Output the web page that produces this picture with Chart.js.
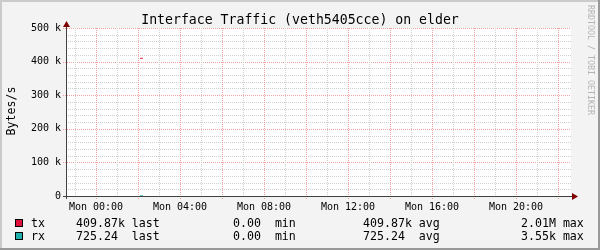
<!DOCTYPE html>
<html><head><meta charset="utf-8">
<script src="https://cdn.jsdelivr.net/npm/chart.js@4/dist/chart.umd.min.js"></script>
<style>html,body{margin:0;padding:0;background:#f3f3f3;overflow:hidden}canvas{display:block}</style>
</head><body>
<canvas id="c" width="600" height="250"></canvas>
<script>
// ---- data ----
const chartTitle = 'Interface Traffic (veth5405cce) on elder';
const yAxisTitle = 'Bytes/s';
const watermark = 'RRDTOOL / TOBI OETIKER';
const sampleMinutes = [126, 134];            // minutes after Mon 00:00
const txValues = [409870, 409870];           // bytes/s
const rxValues = [725.24, 725.24];           // bytes/s
const xTickHours = [0, 4, 8, 12, 16, 20];
const xTickLabels = ['Mon 00:00', 'Mon 04:00', 'Mon 08:00', 'Mon 12:00', 'Mon 16:00', 'Mon 20:00'];
const yTickValues = [0, 100000, 200000, 300000, 400000, 500000];
const yTickLabels = ['0', '100 k', '200 k', '300 k', '400 k', '500 k'];
const seriesNames = ['tx', 'rx'];
const legendLast = ['409.87k', '725.24'];
const legendMin = ['0.00', '0.00'];
const legendAvg = ['409.87k', '725.24'];
const legendMax = ['2.01M', '3.55k'];

// ---- style ----
const seriesColors = ['#e0103c', '#20b2aa'];
const MONO = '"DejaVu Sans Mono", monospace';
const X_MIN = -30 / 21, X_MAX = 475 / 21;   // hours shown
const Y_MAX = 500000;

const rrd = {
  id: 'rrd',
  beforeDraw(chart) {
    const { ctx, chartArea: a } = chart;
    ctx.save();
    ctx.fillStyle = '#f3f3f3'; ctx.fillRect(0, 0, 600, 250);
    ctx.fillStyle = '#cbcbcb'; ctx.fillRect(0, 0, 600, 2); ctx.fillRect(0, 0, 2, 250);
    ctx.fillStyle = '#999999'; ctx.fillRect(0, 248, 600, 2); ctx.fillRect(598, 0, 2, 250);
    ctx.fillStyle = '#ffffff'; ctx.fillRect(a.left, a.top, a.right - a.left, a.bottom - a.top);
    ctx.restore();
  },
  beforeDatasetsDraw(chart) {
    const { ctx, chartArea: a, scales: { x, y } } = chart;
    ctx.save();
    ctx.lineWidth = 1;
    ctx.setLineDash([1, 1]);
    // horizontal grid
    for (let v = 0; v <= Y_MAX; v += 20000) {
      const major = v % 100000 === 0;
      if (v === 0) continue;
      const py = Math.round(y.getPixelForValue(v)) + 0.5;
      ctx.strokeStyle = major ? '#f2a0a0' : '#cfcfcf';
      ctx.beginPath(); ctx.moveTo(major ? a.left - 3 : a.left, py); ctx.lineTo(a.right, py); ctx.stroke();
    }
    // vertical grid
    for (let h = Math.ceil(X_MIN); h <= X_MAX; h += 1) {
      const major = h % 2 === 0;
      const px = Math.round(x.getPixelForValue(h)) + 0.5;
      ctx.strokeStyle = major ? '#f2a0a0' : '#cfcfcf';
      ctx.beginPath(); ctx.moveTo(px, a.top); ctx.lineTo(px, a.bottom + (major ? 3 : 1)); ctx.stroke();
    }
    ctx.restore();
  },
  afterDatasetsDraw(chart) {
    const { ctx, chartArea: a, scales: { x, y } } = chart;
    ctx.save();
    const yb = Math.round(y.getPixelForValue(0)) + 0.5;
    const xl = Math.round(a.left) + 0.5;
    ctx.strokeStyle = '#404040'; ctx.lineWidth = 1;
    ctx.beginPath(); ctx.moveTo(a.left - 3, yb); ctx.lineTo(a.right + 1, yb); ctx.stroke();
    ctx.beginPath(); ctx.moveTo(xl, a.bottom + 3); ctx.lineTo(xl, a.top - 2); ctx.stroke();
    ctx.fillStyle = '#7f0000';
    ctx.beginPath(); ctx.moveTo(a.right + 1, yb - 3.5); ctx.lineTo(a.right + 7, yb); ctx.lineTo(a.right + 1, yb + 3.5); ctx.closePath(); ctx.fill();
    ctx.beginPath(); ctx.moveTo(xl - 3.5, a.top - 1); ctx.lineTo(xl, a.top - 7); ctx.lineTo(xl + 3.5, a.top - 1); ctx.closePath(); ctx.fill();
    ctx.restore();
  },
  afterDraw(chart) {
    const { ctx } = chart;
    ctx.save();
    ctx.fillStyle = '#000';
    ctx.textAlign = 'center'; ctx.textBaseline = 'alphabetic';
    ctx.font = '13.2px ' + MONO;
    ctx.fillText(chartTitle, 300, 24);
    // y title
    ctx.save();
    ctx.translate(14.5, 111); ctx.rotate(-Math.PI / 2);
    ctx.font = '11.6px ' + MONO; ctx.textBaseline = 'alphabetic';
    ctx.fillText(yAxisTitle, 0, 0);
    ctx.restore();
    // watermark
    ctx.save();
    ctx.translate(588, 60); ctx.rotate(Math.PI / 2);
    ctx.font = '8.3px ' + MONO; ctx.fillStyle = '#b4b4b4';
    ctx.fillText(watermark, 0, 0);
    ctx.restore();
    // legend
    ctx.font = '11.6px ' + MONO; ctx.textAlign = 'left';
    const pad = s => s.padEnd(7, ' ');
    seriesNames.forEach((name, i) => {
      const base = 227 + i * 13;
      ctx.fillStyle = seriesColors[i];
      ctx.fillRect(15, base - 8, 8, 8);
      ctx.strokeStyle = '#000'; ctx.lineWidth = 1;
      ctx.strokeRect(15.5, base - 7.5, 7, 7);
      ctx.fillStyle = '#000';
      ctx.fillText(name, 31, base);
      ctx.fillText(pad(legendLast[i]) + ' last', 76, base);
      ctx.fillText(legendMin[i] + '  min', 233, base);
      ctx.fillText(pad(legendAvg[i]) + ' avg', 363, base);
      ctx.fillText(legendMax[i] + ' max', 521, base);
    });
    ctx.restore();
  }
};

new Chart(document.getElementById('c'), {
  type: 'line',
  data: {
    datasets: [
      { label: seriesNames[0], data: sampleMinutes.map((m, i) => ({ x: m / 60, y: txValues[i] })),
        borderColor: seriesColors[0], borderWidth: 1, pointRadius: 0, fill: false, tension: 0 },
      { label: seriesNames[1], data: sampleMinutes.map((m, i) => ({ x: m / 60, y: rxValues[i] })),
        borderColor: seriesColors[1], borderWidth: 1, pointRadius: 0, fill: false, tension: 0 }
    ]
  },
  options: {
    responsive: false, animation: false, devicePixelRatio: 1,
    layout: { padding: { top: 28, right: 29, left: 0, bottom: 0 } },
    plugins: { legend: { display: false }, title: { display: false }, tooltip: { enabled: false } },
    scales: {
      x: {
        type: 'linear', min: X_MIN, max: X_MAX,
        grid: { display: false, drawTicks: false }, border: { display: false },
        afterBuildTicks: s => { s.ticks = xTickHours.map(v => ({ value: v })); },
        afterFit: s => { s.height = 54; },
        ticks: { autoSkip: false, maxRotation: 0, padding: 5, color: '#000', font: { family: MONO, size: 10 },
          callback: v => xTickLabels[xTickHours.indexOf(v)] }
      },
      y: {
        type: 'linear', min: 0, max: Y_MAX,
        grid: { display: false, drawTicks: false }, border: { display: false },
        afterBuildTicks: s => { s.ticks = yTickValues.map(v => ({ value: v })); },
        afterFit: s => { s.width = 66; },
        ticks: { padding: 5, color: '#000', font: { family: MONO, size: 10 },
          callback: v => yTickLabels[yTickValues.indexOf(v)] }
      }
    }
  },
  plugins: [rrd]
});
</script>
</body></html>
